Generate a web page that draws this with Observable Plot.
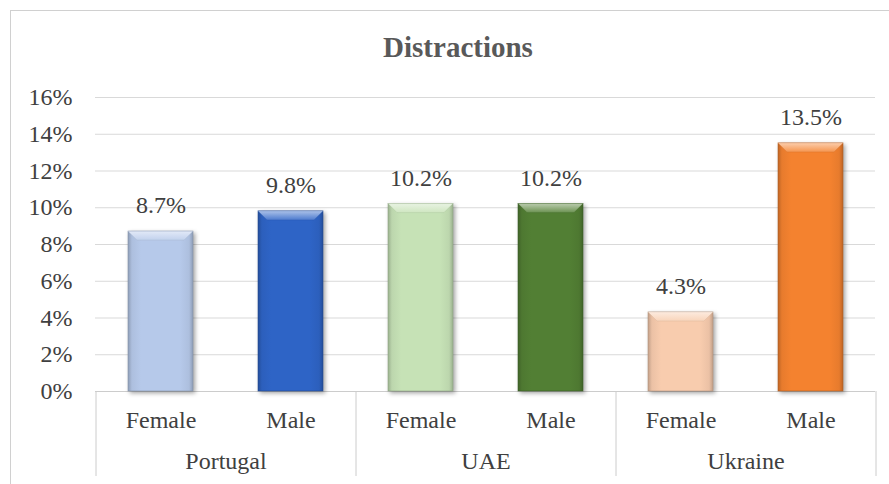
<!DOCTYPE html>
<html>
<head>
<meta charset="utf-8">
<script src="https://cdn.jsdelivr.net/npm/d3@7"></script>
<script src="https://cdn.jsdelivr.net/npm/@observablehq/plot@0.6"></script>
<style>
  body { margin: 0; background: #fff; }
  #chart { position: relative; width: 889px; height: 484px; overflow: hidden; font-family: "Liberation Serif", "Times New Roman", serif; }
  #border { position: absolute; left: 10px; top: 10px; width: 920px; height: 520px; border: 1px solid #d0d0d0; box-sizing: border-box; }
  #title { position: relative; box-sizing: border-box; width: 889px; height: 72px; padding-top: 33px; padding-left: 27px; text-align: center; font-weight: bold; font-size: 29px; line-height: 29px; color: #595959; }
  #plot { position: relative; }
  #plot svg, #plot svg text { font-family: "Liberation Serif", "Times New Roman", serif !important; }
</style>
</head>
<body>
<div id="chart">
  <div id="border"></div>
  <div id="title">Distractions</div>
  <div id="plot"></div>
</div>
<script>
// Share of respondents citing distractions, by country and gender
const countries = ["Portugal", "Portugal", "UAE", "UAE", "Ukraine", "Ukraine"];
const genders = ["Female", "Male", "Female", "Male", "Female", "Male"];
const shares = [8.7, 9.8, 10.2, 10.2, 4.3, 13.5];
const barColors = ["#b6c9ea", "#2e64c6", "#c6e2b6", "#527f34", "#f8ccae", "#f4822f"];
const yTicks = [0, 2, 4, 6, 8, 10, 12, 14, 16];

const rows = shares.map((v, i) => ({
  key: countries[i] + " " + genders[i],
  country: countries[i],
  gender: genders[i],
  value: v,
  fill: `url(#bar-${i})`
}));

const W = 889, H = 412, mL = 95, mR = 14, mT = 25, mB = 93;
const half = (W - mL - mR) / rows.length / 2;

// first bar of each country group (group labels, dividers) and the final bar (closing divider)
const firsts = rows.filter((d, i) => i === 0 || rows[i - 1].country !== d.country);
const lastBar = rows.slice(-1);

const plot = Plot.plot({
  width: W,
  height: H,
  marginLeft: mL,
  marginRight: mR,
  marginTop: mT,
  marginBottom: mB,
  style: { fontFamily: "Liberation Serif, serif", fontSize: "24px", color: "#404040", background: "transparent", overflow: "visible" },
  x: { domain: rows.map(d => d.key), paddingInner: 0.5, paddingOuter: 0.25, axis: null },
  y: { domain: [0, 16], ticks: yTicks, tickFormat: d => d + "%", tickSize: 0, tickPadding: 23, label: null },
  color: { type: "identity" },
  marks: [
    Plot.ruleY(yTicks.slice(1), { stroke: "#d9d9d9", strokeWidth: 1 }),
    Plot.ruleY([0], { stroke: "#cccccc", strokeWidth: 1 }),
    Plot.barY(rows, { x: "key", y: "value", fill: "fill" }),
    Plot.text(rows, { x: "key", y: "value", text: d => d.value.toFixed(1) + "%", dy: -26, fill: "#404040" }),
    Plot.text(rows, { x: "key", y: () => 0, text: "gender", dy: 29, fill: "#404040" }),
    Plot.text(firsts, { x: "key", y: () => 0, text: "country", dx: half, dy: 70, fill: "#404040" }),
    Plot.ruleX(firsts, { x: "key", y1: () => 0, y2: () => 0, dx: -half, insetBottom: -85, stroke: "#cccccc" }),
    Plot.ruleX(lastBar, { x: "key", y1: () => 0, y2: () => 0, dx: half, insetBottom: -85, stroke: "#cccccc" })
  ]
});

document.getElementById("plot").appendChild(plot);

// bevelled bar styling: side shading, lighter top bevel, soft shadow
const svg = d3.select(plot);
const defs = svg.insert("defs", ":first-child");
barColors.forEach((c, i) => {
  const base = d3.color(c);
  const side = defs.append("linearGradient").attr("id", `bar-${i}`)
    .attr("x1", 0).attr("x2", 1).attr("y1", 0).attr("y2", 0);
  [[0, base.darker(0.7)], [0.06, base.darker(0.15)], [0.2, base], [0.8, base], [0.94, base.darker(0.15)], [1, base.darker(0.7)]]
    .forEach(([o, col]) => side.append("stop").attr("offset", o).attr("stop-color", col.formatHex()));
  const cap = defs.append("linearGradient").attr("id", `cap-${i}`)
    .attr("x1", 0).attr("x2", 0).attr("y1", 0).attr("y2", 1);
  cap.append("stop").attr("offset", 0).attr("stop-color", d3.interpolateRgb(c, "#ffffff")(0.6));
  cap.append("stop").attr("offset", 1).attr("stop-color", d3.interpolateRgb(c, "#ffffff")(0.15));
});

const barGroup = svg.select('g[aria-label="bar"]');
barGroup.style("filter", "drop-shadow(2px 2px 2px rgba(0,0,0,0.35))");
barGroup.selectAll("rect").each(function (i) {
  const r = d3.select(this);
  const x = +r.attr("x"), y = +r.attr("y"), w = +r.attr("width"), h = +r.attr("height");
  const base = d3.color(barColors[i]);
  r.attr("stroke", base.darker(0.9).formatHex()).attr("stroke-width", 0.8).attr("stroke-opacity", 0.7);
  const b = Math.min(9, h / 2);
  d3.select(this.parentNode).append("polygon")
    .attr("points", `${x},${y} ${x + w},${y} ${x + w - b},${y + b} ${x + b},${y + b}`)
    .attr("fill", `url(#cap-${i})`)
    .attr("stroke", base.darker(0.6).formatHex())
    .attr("stroke-width", 0.5)
    .attr("stroke-opacity", 0.5);
});
</script>
</body>
</html>
